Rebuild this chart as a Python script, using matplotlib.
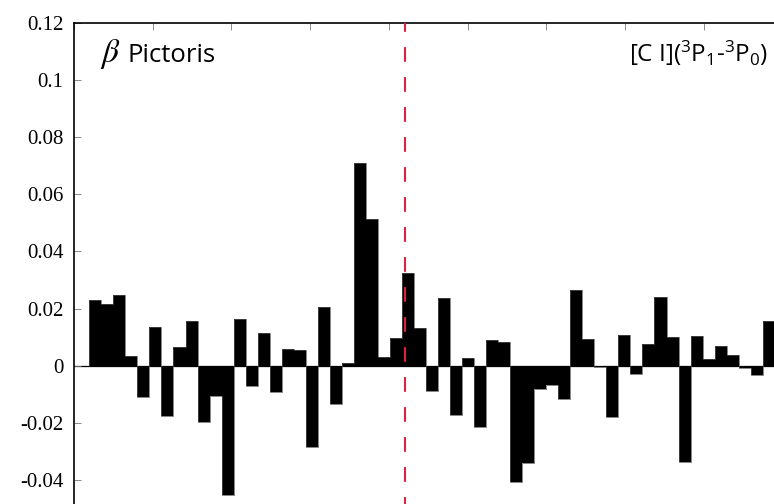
import numpy as np
import matplotlib
matplotlib.use("Agg")
import matplotlib.pyplot as plt

# Spectrum of the [C I] line towards beta Pictoris (flux density per channel)
flux = [
    0.0230, 0.0217, 0.0247, 0.0034, -0.0110, 0.0137, -0.0175, 0.0067, 0.0155, -0.0198,
    -0.0105, -0.0454, 0.0163, -0.0072, 0.0115, -0.0091, 0.0057, 0.0054, -0.0284, 0.0206,
    -0.0133, 0.0008, 0.0709, 0.0514, 0.0029, 0.0096, 0.0325, 0.0133, -0.0089, 0.0238,
    -0.0172, 0.0026, -0.0215, 0.0091, 0.0082, -0.0407, -0.0342, -0.0082, -0.0068, -0.0118,
    0.0266, 0.0095, -0.0003, -0.0180, 0.0106, -0.0030, 0.0075, 0.0239, 0.0102, -0.0339,
    0.0104, 0.0023, 0.0068, 0.0038, -0.0007, -0.0033, 0.0157,
]
v_first = -18.646      # centre of the first channel (km/s)
channel_width = 0.764  # km/s
v_sys = 1.05           # systemic velocity marker (km/s)

x_limits = (-20, 25)
x_ticks = [-20, -15, -10, -5, 0, 5, 10, 15, 20, 25]
y_limits = (-0.06, 0.12)
y_ticks = [-0.04, -0.02, 0, 0.02, 0.04, 0.06, 0.08, 0.1, 0.12]
y_tick_labels = ["-0.04", "-0.02", "0", "0.02", "0.04", "0.06", "0.08", "0.1", "0.12"]

title_left = "Pictoris"
title_right = r"[C I]($^3$P$_1$-$^3$P$_0$)"

plt.rcParams["mathtext.fontset"] = "custom"
plt.rcParams["mathtext.rm"] = "Open Sans"
plt.rcParams["mathtext.it"] = "Open Sans:italic"
plt.rcParams["lines.scale_dashes"] = False

W, H = 774, 504
fig = plt.figure(figsize=(W / 100, H / 100), dpi=100)

# axes frame in pixel units; right and bottom edges lie beyond the canvas
left_px, right_px, top_px, bottom_px = 74, 782.3, 23, 537.0
ax = fig.add_axes([left_px / W, 1 - bottom_px / H,
                   (right_px - left_px) / W, (bottom_px - top_px) / H])

# channel edges for the histogram-style spectrum
edges = v_first - channel_width / 2 + channel_width * np.arange(len(flux) + 1)
ax.stairs(flux, edges, baseline=0, fill=True, color="black", zorder=2)
ax.stairs(flux, edges, baseline=0, fill=False, color="#555555", linewidth=0.5, zorder=2)
ax.axhline(0, color="black", linewidth=0.9, zorder=1)
ax.axvline(v_sys, color="#e0203f", linewidth=1.5,
           linestyle=(4.9, (10.6, 11.0)), zorder=3)

ax.set_xlim(*x_limits)
ax.set_ylim(*y_limits)
ax.set_xticks(x_ticks)
ax.set_yticks(y_ticks)
ax.set_yticklabels(y_tick_labels)
ax.tick_params(axis="both", direction="in", length=5, width=0.6, color="#777777",
               top=True, right=True, labelbottom=False)
ax.tick_params(axis="y", pad=7.7)
for lab in ax.get_yticklabels():
    lab.set_fontfamily("Liberation Serif")
    lab.set_fontsize(15)
for side in ("top", "left", "right", "bottom"):
    ax.spines[side].set_linewidth(1.2)

fig.text(100.5 / W, 1 - 61.7 / H, r"$\beta$", fontsize=24, math_fontfamily="stix",
         ha="left", va="baseline")
fig.text(127.3 / W, 1 - 61.7 / H, title_left, fontsize=18.5, family="Open Sans",
         ha="left", va="baseline")
fig.text(768.3 / W, 1 - 61.7 / H, title_right, fontsize=17.5, family="Open Sans",
         ha="right", va="baseline")

fig.savefig("out.png", dpi=100)
